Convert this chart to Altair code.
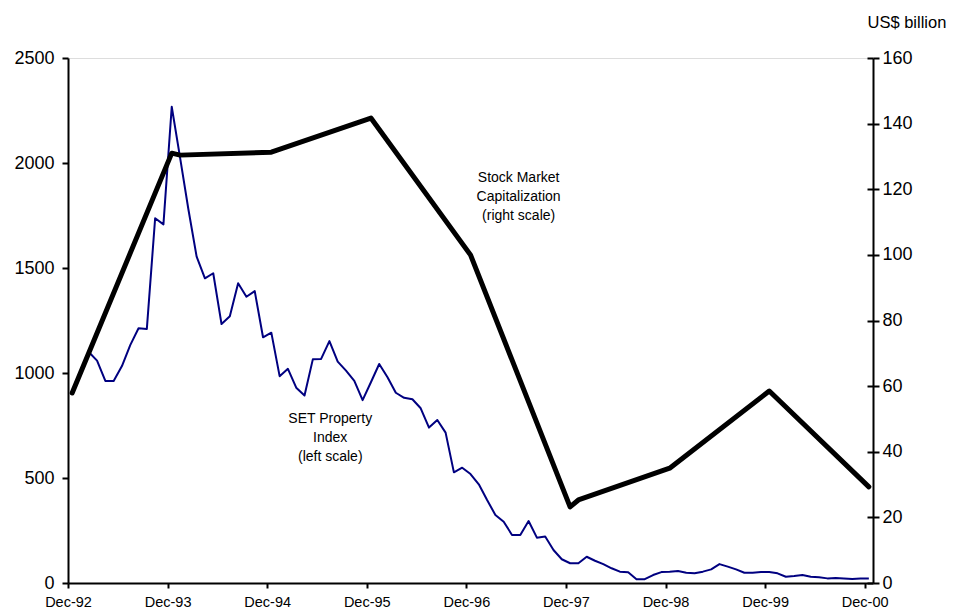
import altair as alt
import pandas as pd

# Month index 0 = Dec-92 ... 96 = Dec-00
set_index = [900, 1000, 1100, 1059, 962, 962, 1033, 1133, 1213, 1210, 1737, 1708,
             2268, 2027, 1781, 1554, 1451, 1475, 1233, 1270, 1427, 1363, 1390, 1170,
             1192, 985, 1020, 930, 893, 1065, 1067, 1152, 1054, 1011, 963, 871,
             956, 1043, 980, 906, 882, 875, 832, 740, 776, 716, 527, 549,
             519, 470, 395, 324, 292, 229, 229, 295, 216, 221, 157, 113,
             94, 94, 125, 106, 90, 70, 54, 51, 18, 18, 38, 52,
             54, 57, 49, 46, 54, 65, 90, 78, 65, 49, 49, 52,
             52, 46, 30, 33, 38, 30, 27, 22, 24, 22, 19, 22, 22]

cap_month = [0, 12, 13, 24, 36, 48, 60, 61, 72, 84, 96]
cap_value = [57.9, 131.0, 130.4, 131.3, 141.7, 100.0, 23.2, 25.3, 35.0, 58.5, 29.3]

tick_labels = ["Dec-92", "Dec-93", "Dec-94", "Dec-95", "Dec-96",
               "Dec-97", "Dec-98", "Dec-99", "Dec-00"]

FONT = "Liberation Sans"

set_df = pd.DataFrame({"n": list(range(len(set_index))), "v": set_index})
cap_df = pd.DataFrame({"n": cap_month, "v": cap_value})
ann_df = pd.DataFrame({
    "n": [53.8, 31.1],
    "v": [1930, 780],
    "label": [["Stock Market", "Capitalization", "(right scale)"],
              ["SET Property", "Index", "(left scale)"]],
})

label_array = "[" + ",".join("'%s'" % t for t in tick_labels) + "]"
x_axis = alt.Axis(
    values=[-0.5 + 12 * k for k in range(len(tick_labels))],
    labelExpr=label_array + "[round((datum.value + 0.5) / 12)]",
    title=None, grid=False, tickSize=5, tickWidth=2, tickColor="black",
    domainColor="black", domainWidth=2, labelFontSize=14.5, labelFont=FONT,
    labelColor="black", labelPadding=7, labelFlush=False, labelOverlap=False,
)
x_enc = alt.X("n:Q", scale=alt.Scale(domain=[-0.5, 96.5], nice=False, zero=False), axis=x_axis)

left_axis = alt.Axis(
    values=[0, 500, 1000, 1500, 2000, 2500], format="d", title=None, grid=False,
    tickSize=6, tickWidth=2, tickColor="black", domainColor="black", domainWidth=2,
    labelFontSize=18, labelFont=FONT, labelColor="black", labelPadding=8,
)
right_vals = [0, 20, 40, 60, 80, 100, 120, 140, 160]
right_axis = alt.Axis(
    orient="right", values=right_vals,
    title="US$ billion", titleAngle=0, titleAlign="left", titleBaseline="alphabetic",
    titleX=-6, titleY=-31, titleFontSize=16.5, titleFont=FONT, titleFontWeight="normal",
    titleColor="black", grid=False, tickSize=6, tickWidth=2, tickColor="black",
    domainColor="black", domainWidth=2, labelFontSize=18, labelFont=FONT,
    labelColor="black", labelPadding=3,
)
# inner half of the right-axis ticks (ticks cross the axis line)
right_inner = alt.Axis(
    orient="right", values=right_vals, offset=-6, title=None, labels=False,
    domain=False, grid=False, tickSize=6, tickWidth=2, tickColor="black",
)

set_line = alt.Chart(set_df).mark_line(color="#000080", strokeWidth=2, strokeJoin="round").encode(
    x=x_enc,
    y=alt.Y("v:Q", scale=alt.Scale(domain=[0, 2500], nice=False), axis=left_axis),
)
cap_line = alt.Chart(cap_df).mark_line(color="black", strokeWidth=5, strokeJoin="round",
                                       strokeCap="round").encode(
    x=x_enc,
    y=alt.Y("v:Q", scale=alt.Scale(domain=[0, 160], nice=False), axis=right_axis),
)
cap_ticks = alt.Chart(cap_df).mark_point(opacity=0).encode(
    x=x_enc,
    y=alt.Y("v:Q", scale=alt.Scale(domain=[0, 160], nice=False), axis=right_inner),
)
ann = alt.Chart(ann_df).mark_text(font=FONT, fontSize=14, color="black", lineHeight=19,
                                  baseline="middle", align="center").encode(
    x=x_enc,
    y=alt.Y("v:Q", scale=alt.Scale(domain=[0, 2500], nice=False), axis=None),
    text="label",
)

chart = alt.layer(set_line, cap_line, cap_ticks, ann).resolve_scale(y="independent").resolve_axis(
    y="independent"
).properties(
    width=805, height=525,
    autosize=alt.AutoSizeParams(type="none"),
    padding={"left": 60, "top": 50, "right": 74, "bottom": 25},
).configure_view(stroke=None).configure(background="white")

chart.save("out.html", embed_options={"renderer": "svg", "actions": False})
